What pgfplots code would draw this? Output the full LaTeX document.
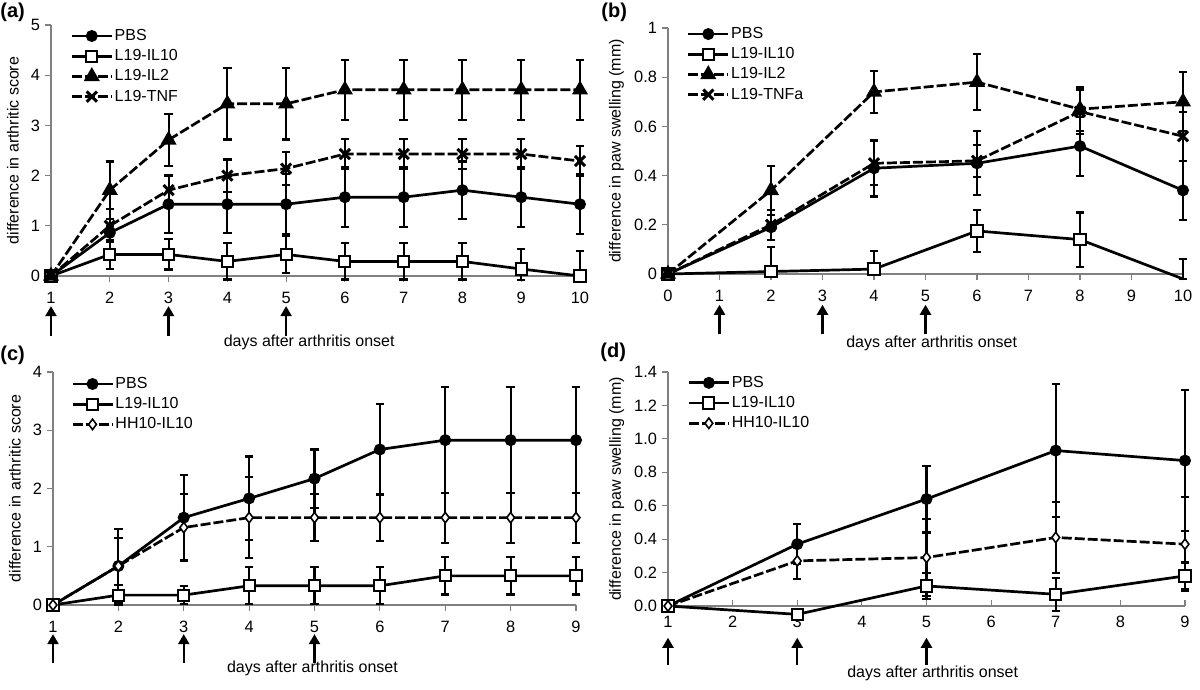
\documentclass[border=0pt]{standalone}
\usepackage{pgfplots}
\pgfplotsset{compat=1.18}
\usepackage{pgfplotstable}
\usepackage{fontspec}
\setmainfont{Liberation Sans}
\usetikzlibrary{arrows.meta}

% ---------- panel (a) ----------
\pgfplotstableread{
x y ep em
1 0 0 0
2 0.86 0.14 0.14
3 1.43 0.57 0.57
4 1.43 0.57 0.57
5 1.43 0.6 0.6
6 1.57 0.6 0.6
7 1.57 0.6 0.6
8 1.71 0.57 0.57
9 1.57 0.6 0.6
10 1.43 0.6 0.6
}\aPBS
\pgfplotstableread{
x y ep em
1 0 0 0
2 0.43 0.29 0.29
3 0.43 0.3 0.3
4 0.29 0.36 0.36
5 0.43 0.37 0.37
6 0.29 0.36 0.36
7 0.29 0.36 0.36
8 0.29 0.36 0.36
9 0.14 0.4 0.22
10 0 0.5 0.08
}\aIL
\pgfplotstableread{
x y ep em
1 0 0 0
2 1.71 0.57 0.57
3 2.71 0.52 0.52
4 3.43 0.71 0.71
5 3.43 0.71 0.71
6 3.71 0.6 0.6
7 3.71 0.6 0.6
8 3.71 0.6 0.6
9 3.71 0.6 0.6
10 3.71 0.6 0.6
}\aILtwo
\pgfplotstableread{
x y ep em
1 0 0 0
2 1.0 0.33 0.33
3 1.71 0.3 0.3
4 2.0 0.32 0.32
5 2.14 0.33 0.33
6 2.43 0.3 0.3
7 2.43 0.3 0.3
8 2.43 0.3 0.3
9 2.43 0.3 0.3
10 2.29 0.3 0.3
}\aTNF
% ---------- panel (b) ----------
\pgfplotstableread{
x y ep em
0 0 0 0
2 0.19 0.05 0.05
4 0.43 0.115 0.115
6 0.45 0.13 0.13
8 0.52 0.12 0.12
10 0.34 0.12 0.12
}\bPBS
\pgfplotstableread{
x y ep em
0 0 0 0
2 0.01 0.1 0.01
4 0.02 0.075 0.02
6 0.175 0.085 0.085
8 0.14 0.11 0.11
10 -0.02 0.08 0.0
}\bIL
\pgfplotstableread{
x y ep em
0 0 0 0
2 0.34 0.1 0.1
4 0.74 0.085 0.085
6 0.78 0.115 0.115
8 0.67 0.09 0.09
10 0.70 0.12 0.12
}\bILtwo
\pgfplotstableread{
x y ep em
0 0 0 0
2 0.2 0.06 0.06
4 0.45 0.09 0.09
6 0.46 0.065 0.065
8 0.66 0.09 0.09
10 0.56 0.1 0.1
}\bTNF
% ---------- panel (c) ----------
\pgfplotstableread{
x y ep em
1 0 0 0
2 0.67 0.63 0.63
3 1.5 0.73 0.73
4 1.83 0.72 0.72
5 2.17 0.5 0.5
6 2.67 0.78 0.78
7 2.83 0.91 0.91
8 2.83 0.91 0.91
9 2.83 0.91 0.91
}\cPBS
\pgfplotstableread{
x y ep em
1 0 0 0
2 0.17 0.17 0.17
3 0.17 0.15 0.15
4 0.33 0.32 0.32
5 0.33 0.32 0.32
6 0.33 0.32 0.32
7 0.5 0.32 0.32
8 0.5 0.32 0.32
9 0.5 0.32 0.32
}\cIL
\pgfplotstableread{
x y ep em
1 0 0 0
2 0.67 0.48 0.48
3 1.33 0.57 0.57
4 1.5 0.7 0.7
5 1.5 0.4 0.4
6 1.5 0.4 0.4
7 1.5 0.43 0.43
8 1.5 0.43 0.43
9 1.5 0.43 0.43
}\cHH
% ---------- panel (d) ----------
\pgfplotstableread{
x y ep em
1 0 0 0
3 0.37 0.12 0.12
5 0.64 0.2 0.2
7 0.93 0.4 0.4
9 0.87 0.42 0.42
}\dPBS
\pgfplotstableread{
x y ep em
1 0 0 0
3 -0.05 0.02 0.02
5 0.12 0.08 0.08
7 0.07 0.1 0.1
9 0.18 0.08 0.08
}\dIL
\pgfplotstableread{
x y ep em
1 0 0 0
3 0.27 0.11 0.11
5 0.29 0.23 0.23
7 0.41 0.21 0.21
9 0.37 0.28 0.28
}\dHH

\tikzset{arr/.style={-{Triangle[length=5pt,width=5.5pt]}, line width=1.1pt, black}}
\pgfplotsset{
  legend image code/.code={\draw[mark repeat=2,mark phase=2,#1] plot coordinates {(0pt,0pt)(10pt,0pt)(20pt,0pt)};},
  panel/.style={
    scale only axis, clip=false,
    axis x line=bottom, axis y line=left,
    axis line style={-, black!50, line width=0.6pt},
    tick style={black!50, line width=0.6pt},
    tick align=outside, major tick length=3pt,
    tick label style={font=\fontsize{8.2}{9.8}\selectfont, black},
    xticklabel style={yshift=-1.5pt},
    yticklabel style={xshift=1pt},
    /pgf/number format/assume math mode=true,
    label style={font=\fontsize{8}{9.6}\selectfont},
    xlabel={days after arthritis onset},
    xlabel style={anchor=center},
    ylabel style={anchor=center},
    legend cell align=left,
    legend style={draw=none, fill=none, anchor=north west, inner sep=0pt,
      row sep=2pt, column sep=0.5pt, font=\fontsize{8}{9.6}\selectfont,
      nodes={inner sep=0.3pt, text height=6pt, text depth=1.5pt}},
  },
  eb/.style={/pgfplots/error bars/y dir=both, /pgfplots/error bars/y explicit,
    /pgfplots/error bars/error bar style={solid, line width=1.05pt, black},
    /pgfplots/error bars/error mark options={rotate=90, mark size=2.1pt, line width=1.05pt, black, solid}},
  sPBS/.style={black, line width=1.35pt, solid, mark=*, mark size=2.3pt, mark options={solid, fill=black}},
  sIL/.style={black, line width=1.35pt, solid, mark=square*, mark size=2.8pt, mark options={solid, fill=white, line width=1pt}},
  sILtwo/.style={black, line width=1.35pt, dash pattern=on 5pt off 1.5pt, mark=triangle*, mark size=3.3pt, mark options={solid, fill=black}},
  sTNF/.style={black, line width=1.35pt, dash pattern=on 5pt off 1.5pt, mark=x, mark size=3.6pt, mark options={solid, line width=1.5pt}},
  sHH/.style={black, line width=1.35pt, dash pattern=on 5pt off 1.5pt, mark=diamond*, mark size=2.6pt, mark options={solid, fill=white, line width=0.8pt}},
}

\begin{document}
\begin{tikzpicture}
\path (0pt,0pt) rectangle (600pt,-345pt);
\tikzset{plab/.style={anchor=north west, inner sep=0pt, font=\bfseries\fontsize{10}{12}\selectfont}}
\node[plab] at (0pt,-1.5pt) {(a)};
\node[plab] at (300.5pt,-1.5pt) {(b)};
\node[plab] at (0pt,-173pt) {(c)};
\node[plab] at (300pt,-171.5pt) {(d)};

% ---------------- (a) ----------------
\begin{axis}[panel, at={(25.5pt,-138pt)}, anchor=south west, width=264.5pt, height=125.5pt,
  xmin=1, xmax=10, ymin=0, ymax=5, xtick={1,2,...,10}, ytick={0,1,2,3,4,5},
  ylabel={difference in arthritic score},
  xlabel style={at={(axis description cs:0.488,-0.263)}},
  ylabel style={at={(axis description cs:-0.072,0.5)}},
  legend style={at={(axis description cs:0.036,0.99)}}]
\addplot+[sPBS, eb] table[x=x, y=y, y error plus=ep, y error minus=em] {\aPBS};
\addplot+[sIL, eb] table[x=x, y=y, y error plus=ep, y error minus=em] {\aIL};
\addplot+[sILtwo, eb] table[x=x, y=y, y error plus=ep, y error minus=em] {\aILtwo};
\addplot+[sTNF, eb] table[x=x, y=y, y error plus=ep, y error minus=em] {\aTNF};
\legend{PBS, L19-IL10, L19-IL2, L19-TNF}
\draw[arr] (axis cs:1,-1.2) -- (axis cs:1,-0.6);
\draw[arr] (axis cs:3,-1.2) -- (axis cs:3,-0.6);
\draw[arr] (axis cs:5,-1.2) -- (axis cs:5,-0.6);
\end{axis}

% ---------------- (b) ----------------
\begin{axis}[panel, at={(334pt,-137pt)}, anchor=south west, width=257.5pt, height=123pt,
  xmin=0, xmax=10, ymin=0, ymax=1, xtick={0,1,...,10}, ytick={0,0.2,0.4,0.6,0.8,1},
  ylabel={difference in paw swelling (mm)},
  xlabel style={at={(axis description cs:0.512,-0.28)}},
  ylabel style={at={(axis description cs:-0.1,0.5)}},
  legend style={at={(axis description cs:0.036,1.01)}}]
\addplot+[sPBS, eb] table[x=x, y=y, y error plus=ep, y error minus=em] {\bPBS};
\addplot+[sIL, mark indices={1,2,3,4,5}, legend image post style={mark indices={2}}, eb] table[x=x, y=y, y error plus=ep, y error minus=em] {\bIL};
\addplot+[sILtwo, eb] table[x=x, y=y, y error plus=ep, y error minus=em] {\bILtwo};
\addplot+[sTNF, eb] table[x=x, y=y, y error plus=ep, y error minus=em] {\bTNF};
\legend{PBS, L19-IL10, L19-IL2, L19-TNFa}
\draw[arr] (axis cs:1,-0.245) -- (axis cs:1,-0.125);
\draw[arr] (axis cs:3,-0.245) -- (axis cs:3,-0.125);
\draw[arr] (axis cs:5,-0.245) -- (axis cs:5,-0.125);
\end{axis}

% ---------------- (c) ----------------
\begin{axis}[panel, at={(26.5pt,-302.5pt)}, anchor=south west, width=261.5pt, height=116.5pt,
  xmin=1, xmax=9, ymin=0, ymax=4, xtick={1,2,...,9}, ytick={0,1,2,3,4},
  ylabel={difference in arthritic score},
  xlabel style={at={(axis description cs:0.496,-0.27)}},
  ylabel style={at={(axis description cs:-0.073,0.5)}},
  legend style={at={(axis description cs:0.034,0.985)}}]
\addplot+[sPBS, eb] table[x=x, y=y, y error plus=ep, y error minus=em] {\cPBS};
\addplot+[sIL, eb] table[x=x, y=y, y error plus=ep, y error minus=em] {\cIL};
\addplot+[sHH, eb] table[x=x, y=y, y error plus=ep, y error minus=em] {\cHH};
\legend{PBS, L19-IL10, HH10-IL10}
\draw[arr] (axis cs:1,-0.99) -- (axis cs:1,-0.5);
\draw[arr] (axis cs:3,-0.99) -- (axis cs:3,-0.5);
\draw[arr] (axis cs:5,-0.99) -- (axis cs:5,-0.5);
\end{axis}

% ---------------- (d) ----------------
\begin{axis}[panel, at={(334pt,-303pt)}, anchor=south west, width=258.5pt, height=117pt,
  xmin=1, xmax=9, ymin=0, ymax=1.4, xtick={1,2,...,9}, ytick={0,0.2,0.4,0.6,0.8,1.0,1.2,1.4},
  xtick align=inside,
  yticklabel style={/pgf/number format/.cd, fixed, fixed zerofill, precision=1},
  ylabel={difference in paw swelling (mm)},
  xlabel style={at={(axis description cs:0.512,-0.286)}},
  ylabel style={at={(axis description cs:-0.099,0.5)}},
  legend style={at={(axis description cs:0.037,0.99)}}]
\addplot+[sPBS, eb] table[x=x, y=y, y error plus=ep, y error minus=em] {\dPBS};
\addplot+[sIL, eb] table[x=x, y=y, y error plus=ep, y error minus=em] {\dIL};
\addplot+[sHH, eb] table[x=x, y=y, y error plus=ep, y error minus=em] {\dHH};
\legend{PBS, L19-IL10, HH10-IL10}
\draw[arr] (axis cs:1,-0.355) -- (axis cs:1,-0.19);
\draw[arr] (axis cs:3,-0.355) -- (axis cs:3,-0.19);
\draw[arr] (axis cs:5,-0.355) -- (axis cs:5,-0.19);
\end{axis}
\end{tikzpicture}
\end{document}
